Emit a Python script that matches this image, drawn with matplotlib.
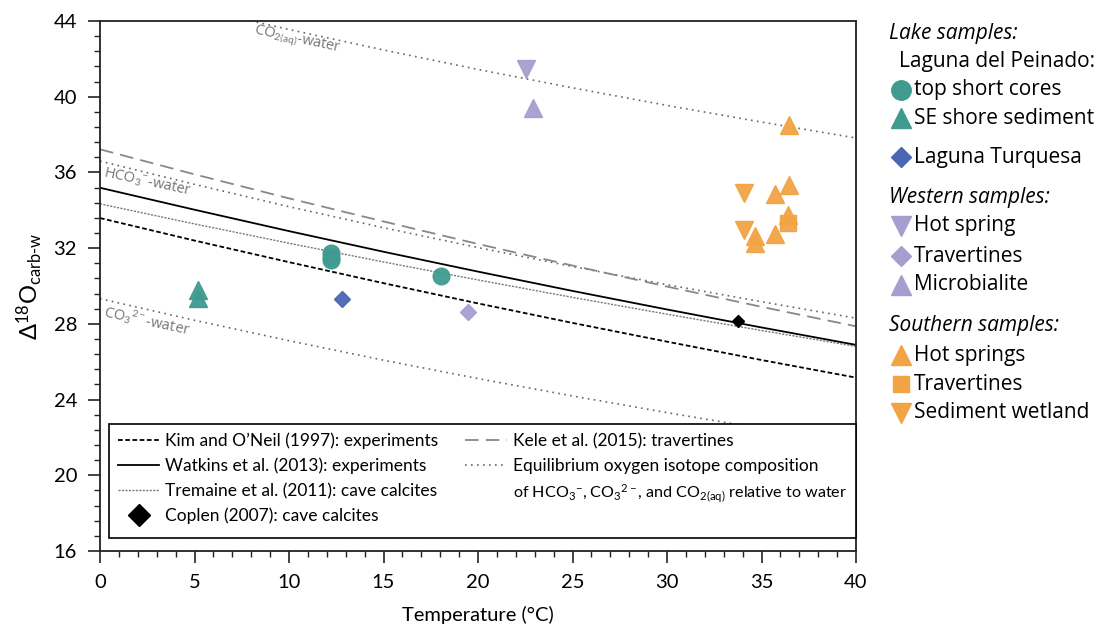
import matplotlib
matplotlib.use("Agg")
import matplotlib.pyplot as plt
from matplotlib.lines import Line2D
import numpy as np

# ---------------- data ----------------
T_line = [0, 5, 10, 15, 20, 25, 30, 35, 40]
kim_oneil = [33.59, 32.40, 31.26, 30.15, 29.08, 28.05, 27.06, 26.09, 25.16]
watkins = [35.19, 34.03, 32.90, 31.81, 30.76, 29.74, 28.76, 27.81, 26.89]
tremaine = [34.34, 33.28, 32.26, 31.27, 30.32, 29.40, 28.51, 27.65, 26.81]
kele = [37.22, 35.90, 34.63, 33.41, 32.22, 31.08, 29.97, 28.90, 27.87]
hco3_water = [36.60, 35.37, 34.19, 33.08, 32.03, 31.03, 30.07, 29.17, 28.30]
co3_water = [29.33, 28.19, 27.11, 26.08, 25.11, 24.19, 23.31, 22.47, 21.67]
co2_water = [45.89, 44.69, 43.55, 42.47, 41.44, 40.47, 39.54, 38.66, 37.82]

coplen_T = [33.75]
coplen_d = [28.17]

peinado_cores_T = [12.2, 12.2, 12.2, 18.05]
peinado_cores_d = [31.75, 31.55, 31.35, 30.55]
peinado_shore_T = [5.2, 5.2]
peinado_shore_d = [29.79, 29.37]
turquesa_T = [12.8]
turquesa_d = [29.30]

west_spring_T = [22.55]
west_spring_d = [41.45]
west_trav_T = [19.45]
west_trav_d = [28.64]
west_micro_T = [22.9]
west_micro_d = [39.4]

south_springs_T = [36.45, 36.45, 35.7, 36.4, 35.7, 34.65, 34.65]
south_springs_d = [38.5, 35.35, 34.85, 33.75, 32.75, 32.62, 32.28]
south_trav_T = [36.42]
south_trav_d = [33.31]
south_wetland_T = [34.05, 34.05]
south_wetland_d = [34.93, 32.96]

x_ticks = [0, 5, 10, 15, 20, 25, 30, 35, 40]
y_ticks = [16, 20, 24, 28, 32, 36, 40, 44]

# ---------------- style ----------------
TEAL = "#3f9b8f"
BLUE = "#4b66b3"
LAV = "#a59fcf"
ORANGE = "#f2a444"
GREY_LBL = "#777777"

plt.rcParams["font.family"] = ["Lato", "DejaVu Sans"]
plt.rcParams["mathtext.fontset"] = "custom"
plt.rcParams["mathtext.rm"] = "Lato"
plt.rcParams["mathtext.it"] = "Lato:italic"

fig = plt.figure(figsize=(10.99, 6.31), dpi=100)
ax = fig.add_axes([100 / 1099, 1 - 551 / 631, 756 / 1099, 530 / 631])

# calibration lines
ax.plot(T_line, co2_water, color="#666666", lw=1.2, ls=(0, (1, 2.6)), zorder=2)
ax.plot(T_line, hco3_water, color="#666666", lw=1.2, ls=(0, (1, 2.6)), zorder=2)
ax.plot(T_line, co3_water, color="#666666", lw=1.2, ls=(0, (1, 2.6)), zorder=2)
ax.plot(T_line, kele, color="#888888", lw=1.3, ls=(0, (7.5, 4)), zorder=2)
ax.plot(T_line, tremaine, color="#777777", lw=1.0, ls=(0, (1.5, 1)), zorder=2)
ax.plot(T_line, watkins, color="black", lw=1.3, ls="-", zorder=2)
ax.plot(T_line, kim_oneil, color="black", lw=1.3, ls=(0, (2.6, 1.4)), zorder=2)
ax.plot(coplen_T, coplen_d, ls="none", marker="D", ms=6.5, color="black", zorder=4)

# line labels
ax.text(10.45, 43.0, r"CO$_{2\mathrm{(aq)}}$-water", color=GREY_LBL, fontsize=10.5,
        fontfamily="Open Sans", rotation=-12, ha="center", va="center")
ax.text(2.5, 35.5, r"HCO$_3$$^{-}$-water", color=GREY_LBL, fontsize=10.5,
        fontfamily="Open Sans", rotation=-12, ha="center", va="center")
ax.text(2.5, 28.2, r"CO$_3$$^{2-}$-water", color=GREY_LBL, fontsize=10.5,
        fontfamily="Open Sans", rotation=-12, ha="center", va="center")

# samples
kw = dict(ls="none", alpha=0.95, zorder=5)
ax.plot(peinado_cores_T, peinado_cores_d, marker="o", ms=12, color=TEAL, mec=TEAL, **kw)
ax.plot(peinado_shore_T, peinado_shore_d, marker="^", ms=13, color=TEAL, mec=TEAL, **kw)
ax.plot(turquesa_T, turquesa_d, marker="D", ms=8.6, color=BLUE, mec=BLUE, **kw)
ax.plot(west_spring_T, west_spring_d, marker="v", ms=13, color=LAV, mec=LAV, **kw)
ax.plot(west_trav_T, west_trav_d, marker="D", ms=8.6, color=LAV, mec=LAV, **kw)
ax.plot(west_micro_T, west_micro_d, marker="^", ms=13, color=LAV, mec=LAV, **kw)
ax.plot(south_springs_T, south_springs_d, marker="^", ms=13, color=ORANGE, mec=ORANGE, **kw)
ax.plot(south_trav_T, south_trav_d, marker="s", ms=11, color=ORANGE, mec=ORANGE, **kw)
ax.plot(south_wetland_T, south_wetland_d, marker="v", ms=13, color=ORANGE, mec=ORANGE, **kw)

# axes
ax.set_xlim(0, 40)
ax.set_ylim(16, 44)
ax.set_xticks(x_ticks)
ax.set_yticks(y_ticks)
ax.set_xticks(np.arange(0, 40.01, 1), minor=True)
ax.set_yticks(np.arange(16, 44.01, 0.8), minor=True)
ax.tick_params(which="major", length=8.5, width=1.2, labelsize=14.5, color="#222222", pad=8)
ax.tick_params(which="minor", length=4, width=1.0, color="#222222")
for sp in ax.spines.values():
    sp.set_linewidth(1.3)
    sp.set_color("#222222")
ax.set_xlabel("Temperature (°C)", fontsize=14.5, labelpad=11)
ax.set_ylabel(r"$\Delta^{18}$O$_{\mathrm{carb\text{-}w}}$", fontsize=17, labelpad=6)

# bottom legend (calibrations)
h_kim = Line2D([], [], color="black", lw=1.3, ls=(0, (2.6, 1.4)))
h_wat = Line2D([], [], color="black", lw=1.3, ls="-")
h_tre = Line2D([], [], color="#777777", lw=1.0, ls=(0, (1.5, 1)))
h_cop = Line2D([], [], color="black", ls="none", marker="D", ms=11)
h_kel = Line2D([], [], color="#888888", lw=1.3, ls=(0, (7.5, 4)))
h_eq = Line2D([], [], color="#666666", lw=1.2, ls=(0, (1, 2.6)))
h_blank = Line2D([], [], ls="none")
handles = [h_kim, h_wat, h_tre, h_cop, h_kel, h_eq, h_blank, h_blank]
labels = ["Kim and O\u2019Neil (1997): experiments",
          "Watkins et al. (2013): experiments",
          "Tremaine et al. (2011): cave calcites",
          "Coplen (2007): cave calcites",
          "Kele et al. (2015): travertines",
          "Equilibrium oxygen isotope composition",
          "of HCO$_3$$^{-}$, CO$_3$$^{2-}$, and CO$_{2\\mathrm{(aq)}}$ relative to water",
          " "]
leg = ax.legend(handles, labels, ncol=2, loc="lower left",
                bbox_to_anchor=(9 / 756, 13 / 530), fontsize=12.5,
                frameon=True, fancybox=False, edgecolor="black", framealpha=1,
                handlelength=2.4, handletextpad=0.35, columnspacing=1.55,
                labelspacing=0.5, borderpad=0.5, borderaxespad=0)
leg.get_texts()[6].set_fontsize(11.6)
leg.get_frame().set_linewidth(1.2)
leg.set_zorder(10)

# right legend (samples), drawn in figure pixel coordinates
lax = fig.add_axes([0, 0, 1, 1], facecolor="none")
lax.set_xlim(0, 1099)
lax.set_ylim(631, 0)
lax.axis("off")
rfont = dict(fontfamily="Open Sans", fontsize=15, va="center", ha="left")
entries = [
    ("head", "Lake samples:", 889, 33),
    ("head2", "Laguna del Peinado:", 899, 61),
    ("o", "top short cores", TEAL, 90),
    ("^", "SE shore sediment", TEAL, 118),
    ("D", "Laguna Turquesa", BLUE, 157),
    ("head", "Western samples:", 889, 198),
    ("v", "Hot spring", LAV, 226),
    ("D", "Travertines", LAV, 256),
    ("^", "Microbialite", LAV, 285),
    ("head", "Southern samples:", 889, 326),
    ("^", "Hot springs", ORANGE, 355),
    ("s", "Travertines", ORANGE, 384),
    ("v", "Sediment wetland", ORANGE, 413),
]
msz = {"o": 14, "^": 14.5, "v": 14, "D": 10.5, "s": 11}
for kind, txt, a, y in entries:
    if kind == "head":
        lax.text(a, y, txt, style="italic", **rfont)
    elif kind == "head2":
        lax.text(a, y, txt, **rfont)
    else:
        lax.plot([901], [y], marker=kind, ms=msz[kind], color=a, mec=a, ls="none")
        lax.text(914, y, txt, **rfont)

fig.savefig("out.png", dpi=100)
